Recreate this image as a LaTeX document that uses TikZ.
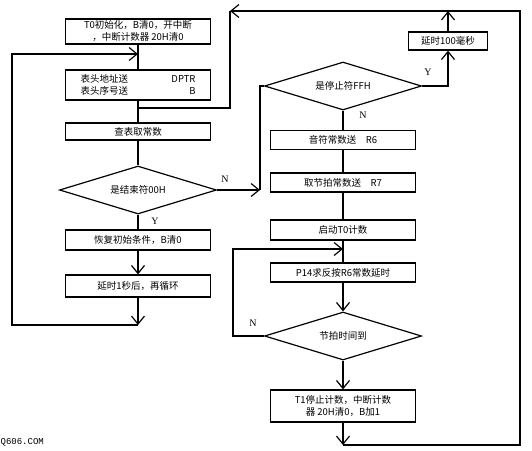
\documentclass[tikz,border=0pt]{standalone}
\usepackage{fontspec}
\setmainfont{Liberation Serif}
\setmonofont{Liberation Mono}
\newfontfamily\cjk{Noto Sans CJK SC}
\usetikzlibrary{shapes.geometric,arrows.meta}

\begin{document}
\begin{tikzpicture}[x=1pt, y=-1pt, line width=1.2pt,
  block/.style={draw, font=\cjk\fontsize{9.5}{12}\selectfont, minimum width=145pt, inner sep=1pt, align=center},
  decision/.style={draw, diamond, aspect=3.2, font=\cjk\fontsize{9.5}{10}\selectfont, minimum width=157pt, minimum height=48pt, inner sep=0pt},
  arr/.style={-{Straight Barb[length=8pt,width=13pt]}},
  yn/.style={font=\fontsize{10}{11}\selectfont, inner sep=0pt}]

  \useasboundingbox (0,0) rectangle (532,450);

  % Left column
  \node[block, minimum height=25pt] (init) at (138,31.5) {T0初始化，B清0，开中断\\，中断计数器 20H清0};
  \node[block, minimum height=30pt, text width=115pt, align=left, below of=init, node distance=53.5pt] (addr) {表头地址送\hfill DPTR\\表头序号送\hfill B};
  \node[block, minimum height=17pt, below of=addr, node distance=46.5pt] (fetch) {查表取常数};
  \node[decision, below of=fetch, node distance=58.5pt] (endq) {是结束符00H};
  \node[block, minimum height=20pt, below of=endq, node distance=50pt] (reset) {恢复初始条件，B清0};
  \node[block, minimum height=22pt, below of=reset, node distance=46pt] (wait1) {延时1秒后，再循环};

  % Right column
  \node[decision] (stopq) at (343,86) {是停止符FFH};
  \node[block, minimum width=79pt, minimum height=18pt] (wait100) at (448,41) {延时100毫秒};
  \node[block, minimum height=19pt, below of=stopq, node distance=54pt] (note) {音符常数送\quad R6};
  \node[block, minimum height=19pt, below of=note, node distance=42.5pt] (beat) {取节拍常数送\quad R7};
  \node[block, minimum height=20pt, below of=beat, node distance=47.5pt] (start) {启动T0计数};
  \node[block, minimum height=19pt, below of=start, node distance=42.5pt] (p14) {P14求反按R6常数延时};
  \node[decision, below of=p14, node distance=63.5pt] (beatq) {节拍时间到};
  \node[block, minimum height=32pt, below of=beatq, node distance=70pt] (t1) {T1停止计数，中断计数\\器 20H清0，B加1};

  % Labels
  \node[yn] (n1) at (225,179) {N};
  \node[yn] (y1) at (155,221) {Y};
  \node[yn] (y2) at (428,72) {Y};
  \node[yn] (n2) at (363,115) {N};
  \node[yn] (n3) at (253,323) {N};
  \node[font=\ttfamily\fontsize{9}{10}\selectfont, anchor=west, inner sep=0pt] (mark) at (0,442) {Q606.COM};

  % Corners
  \coordinate (j1) at (138,54);
  \coordinate (j2) at (138,108);
  \coordinate (c1) at (138,325);
  \coordinate (c1l) at (12,325);
  \coordinate (c3) at (260,190);
  \coordinate (topL) at (230,11);
  \coordinate (topR) at (520,11);
  \coordinate (j3) at (343,249);
  \coordinate (c5) at (233,336);
  \coordinate (c4) at (343,445);
  \coordinate (j4) at (448,11);

  % Left flow
  \draw (init) -- (addr);
  \draw (addr) -- (fetch);
  \draw (fetch) -- (endq);
  \draw (endq) -- (reset);
  \draw[arr] (reset) -- (wait1);
  \draw[arr] (wait1) -- (c1);
  \draw[arr] (c1) -- (c1l) |- (j1);
  \draw (topL) |- (j2);
  \draw[arr] (endq) -- (c3);
  \draw (c3) |- (stopq.west);

  % Right flow
  \draw (stopq) -- (note);
  \draw (note) -- (beat);
  \draw (beat) -- (start);
  \draw (start) -- (p14);
  \draw[arr] (p14) -- (beatq);
  \draw[arr] (beatq.west) -- (c5) |- (j3);
  \draw[arr] (beatq) -- (t1);
  \draw[arr] (t1) -- (c4);
  \draw[arr] (c4) -| (topR) -- (topL);
  \draw[arr] (stopq.east) -| (wait100);
  \draw[arr] (wait100) -- (j4);

\end{tikzpicture}
\end{document}
